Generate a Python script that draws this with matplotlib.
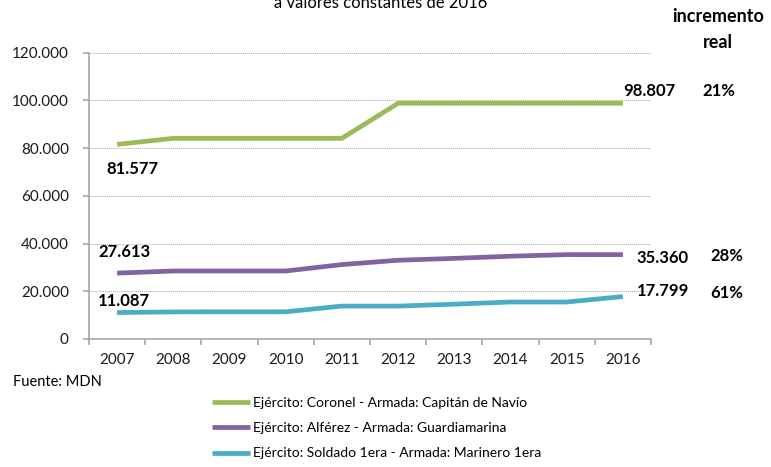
import matplotlib
matplotlib.use("Agg")
import matplotlib.pyplot as plt
from matplotlib.ticker import FuncFormatter, FixedLocator

# datos (pesos, valores constantes 2016)
years = ['2007', '2008', '2009', '2010', '2011', '2012', '2013', '2014', '2015', '2016']
coronel = [81577, 84100, 84100, 84100, 84100, 98807, 98807, 98807, 98807, 98807]
alferez = [27613, 28500, 28500, 28500, 31200, 33000, 33800, 34700, 35370, 35360]
soldado = [11087, 11350, 11400, 11400, 13800, 13800, 14600, 15500, 15500, 17799]
series_names = ['Ejército: Coronel - Armada: Capitán de Navío',
                'Ejército: Alférez - Armada: Guardiamarina',
                'Ejército: Soldado 1era - Armada: Marinero 1era']
colors = ['#9BBB59', '#8064A2', '#4BACC6']
increments = ['21%', '28%', '61%']

plt.rcParams['font.family'] = ['Lato', 'DejaVu Sans']

W, H = 771, 467
fig = plt.figure(figsize=(W / 100, H / 100), dpi=100)
ax = fig.add_axes([89 / W, 1 - 339 / H, (651 - 89) / W, (339 - 52.7) / H])

x = list(range(len(years)))
data = [coronel, alferez, soldado]
for vals, c, name in zip(data, colors, series_names):
    ax.plot(x, vals, color=c, linewidth=3.4, solid_capstyle='butt', label=name)

ax.set_xlim(-0.5, len(years) - 0.5)
ax.set_ylim(0, 120000)
ax.set_yticks(range(0, 120001, 20000))
ax.yaxis.set_major_formatter(FuncFormatter(lambda v, p: '0' if v == 0 else f'{int(v):,}'.replace(',', '.')))
ax.set_xticks(x)
ax.set_xticklabels(years)
ax.xaxis.set_minor_locator(FixedLocator([i - 0.5 for i in range(len(years) + 1)]))

ax.grid(axis='y', linestyle=(0, (1, 1)), color='#A6A6A6', linewidth=0.7)
ax.set_axisbelow(True)
for s in ['top', 'right']:
    ax.spines[s].set_visible(False)
for s in ['left', 'bottom']:
    ax.spines[s].set_color('#A6A6A6')
    ax.spines[s].set_linewidth(1.2)

ax.tick_params(axis='y', length=4.5, width=1.2, color='#A6A6A6', pad=10, labelsize=11, labelcolor='#1a1a1a')
ax.tick_params(axis='x', which='major', length=0, pad=10, labelsize=11, labelcolor='#1a1a1a')
ax.tick_params(axis='x', which='minor', length=4.5, width=1.2, color='#A6A6A6')

def fmt(v):
    return f'{v:,}'.replace(',', '.')

lab = dict(textcoords='offset pixels', fontsize=12, fontweight='bold', ha='left', va='center', color='#000000')
ax.annotate(fmt(coronel[0]), (0, coronel[0]), xytext=(-11, -25), **lab)
ax.annotate(fmt(coronel[-1]), (9, coronel[-1]), xytext=(0, 12), **lab)
ax.annotate(fmt(alferez[0]), (0, alferez[0]), xytext=(-19, 21), **lab)
ax.annotate(fmt(alferez[-1]), (9, alferez[-1]), xytext=(14, -3), **lab)
ax.annotate(fmt(soldado[0]), (0, soldado[0]), xytext=(-19, 12), **lab)
ax.annotate(fmt(soldado[-1]), (9, soldado[-1]), xytext=(14, 6), **lab)

# columna de incremento real
fig.text(718 / W, 1 - 17 / H, 'incremento', ha='center', va='center', fontsize=13, fontweight='bold')
fig.text(718 / W, 1 - 42 / H, 'real', ha='center', va='center', fontsize=13, fontweight='bold')
for txt, xp, yp in zip(increments, [702, 710, 710], [91, 256, 293]):
    fig.text(xp / W, 1 - yp / H, txt, ha='left', va='center', fontsize=12, fontweight='bold')

fig.text(381 / W, 1 - 8 / H, 'a valores constantes de 2016', ha='center', va='baseline', fontsize=12)
fig.text(13 / W, 1 - 382 / H, 'Fuente: MDN', ha='left', va='center', fontsize=10.5)

fig.legend(loc='upper left', bbox_to_anchor=(212 / W, 1 - 397 / H), frameon=False,
           fontsize=10, handlelength=2.75, handletextpad=0.2, labelspacing=0.95,
           borderpad=0, borderaxespad=0)

fig.savefig('out.png', dpi=100)
